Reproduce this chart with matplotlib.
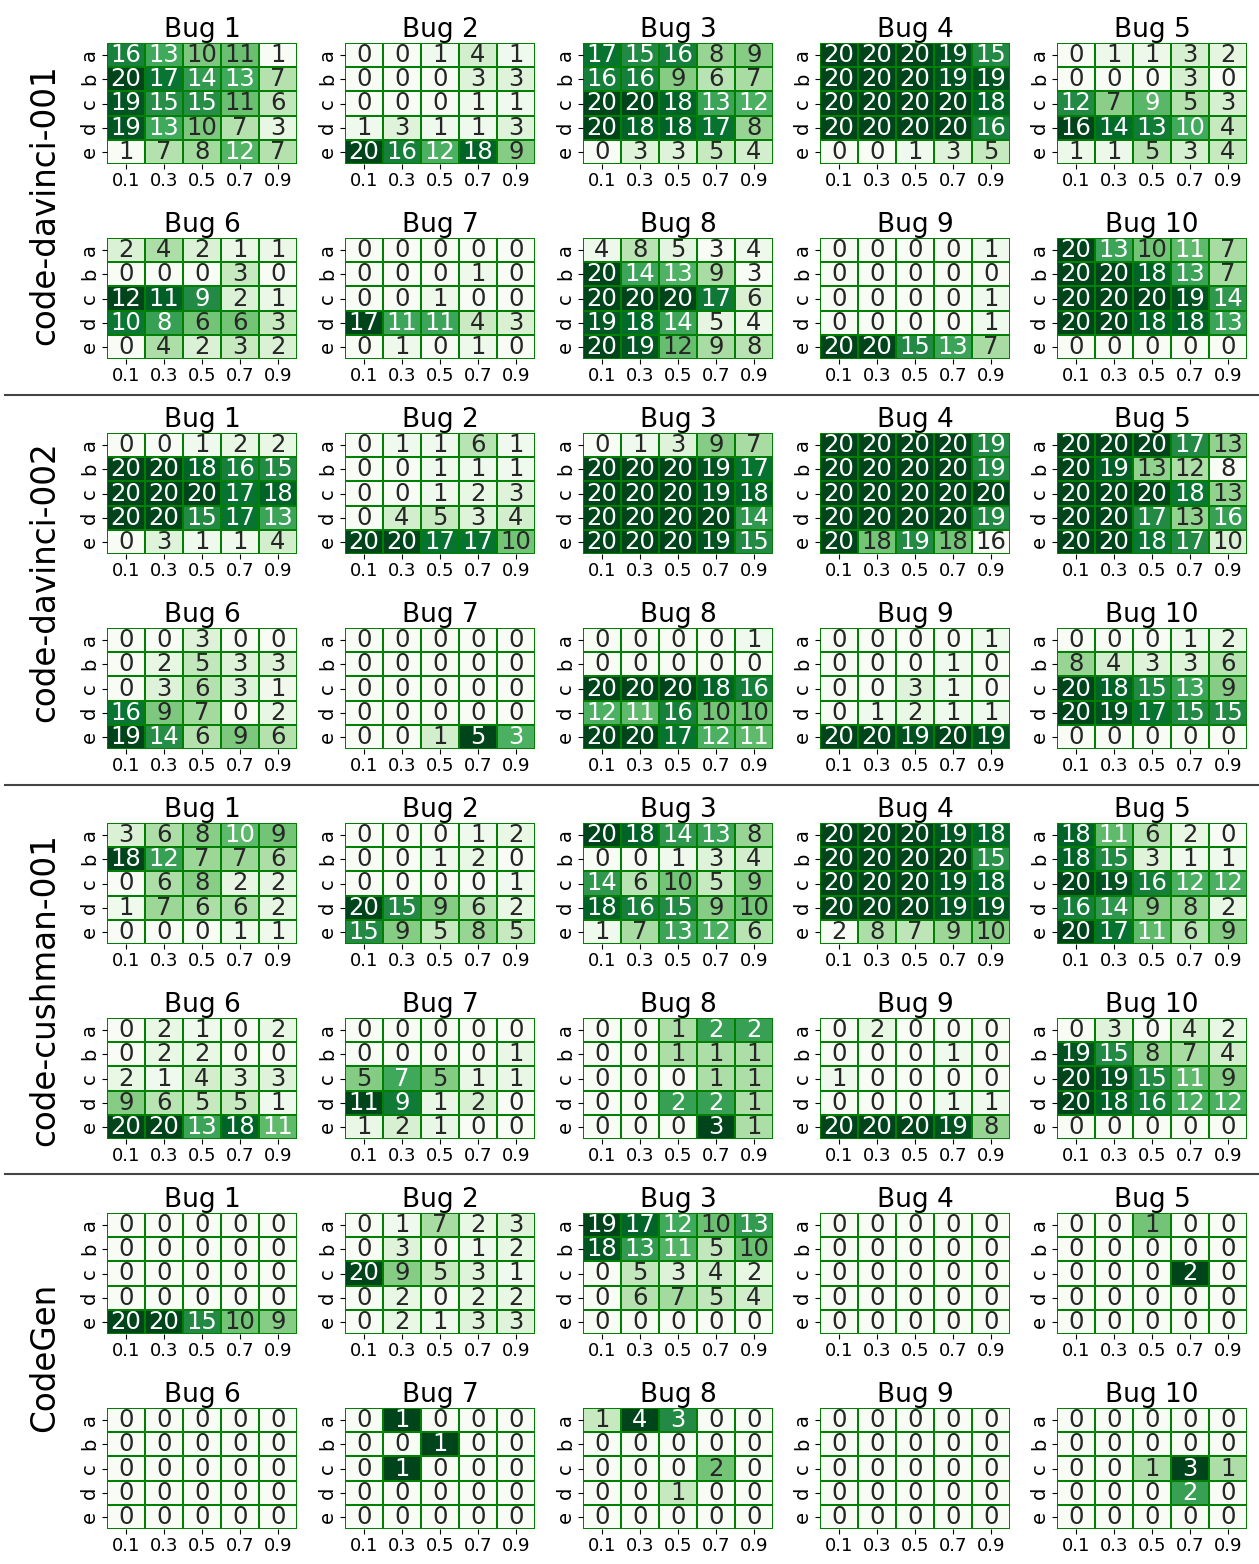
import matplotlib
matplotlib.use('Agg')
import matplotlib.pyplot as plt
import seaborn as sns
import numpy as np

models = ['code-davinci-001', 'code-davinci-002', 'code-cushman-001', 'CodeGen']
bugs = ['Bug %d' % i for i in range(1, 11)]
temps = ['0.1', '0.3', '0.5', '0.7', '0.9']
rows = ['a', 'b', 'c', 'd', 'e']

davinci_001 = [
    [[16, 13, 10, 11, 1], [20, 17, 14, 13, 7], [19, 15, 15, 11, 6], [19, 13, 10, 7, 3], [1, 7, 8, 12, 7]],
    [[0, 0, 1, 4, 1], [0, 0, 0, 3, 3], [0, 0, 0, 1, 1], [1, 3, 1, 1, 3], [20, 16, 12, 18, 9]],
    [[17, 15, 16, 8, 9], [16, 16, 9, 6, 7], [20, 20, 18, 13, 12], [20, 18, 18, 17, 8], [0, 3, 3, 5, 4]],
    [[20, 20, 20, 19, 15], [20, 20, 20, 19, 19], [20, 20, 20, 20, 18], [20, 20, 20, 20, 16], [0, 0, 1, 3, 5]],
    [[0, 1, 1, 3, 2], [0, 0, 0, 3, 0], [12, 7, 9, 5, 3], [16, 14, 13, 10, 4], [1, 1, 5, 3, 4]],
    [[2, 4, 2, 1, 1], [0, 0, 0, 3, 0], [12, 11, 9, 2, 1], [10, 8, 6, 6, 3], [0, 4, 2, 3, 2]],
    [[0, 0, 0, 0, 0], [0, 0, 0, 1, 0], [0, 0, 1, 0, 0], [17, 11, 11, 4, 3], [0, 1, 0, 1, 0]],
    [[4, 8, 5, 3, 4], [20, 14, 13, 9, 3], [20, 20, 20, 17, 6], [19, 18, 14, 5, 4], [20, 19, 12, 9, 8]],
    [[0, 0, 0, 0, 1], [0, 0, 0, 0, 0], [0, 0, 0, 0, 1], [0, 0, 0, 0, 1], [20, 20, 15, 13, 7]],
    [[20, 13, 10, 11, 7], [20, 20, 18, 13, 7], [20, 20, 20, 19, 14], [20, 20, 18, 18, 13], [0, 0, 0, 0, 0]],
]

davinci_002 = [
    [[0, 0, 1, 2, 2], [20, 20, 18, 16, 15], [20, 20, 20, 17, 18], [20, 20, 15, 17, 13], [0, 3, 1, 1, 4]],
    [[0, 1, 1, 6, 1], [0, 0, 1, 1, 1], [0, 0, 1, 2, 3], [0, 4, 5, 3, 4], [20, 20, 17, 17, 10]],
    [[0, 1, 3, 9, 7], [20, 20, 20, 19, 17], [20, 20, 20, 19, 18], [20, 20, 20, 20, 14], [20, 20, 20, 19, 15]],
    [[20, 20, 20, 20, 19], [20, 20, 20, 20, 19], [20, 20, 20, 20, 20], [20, 20, 20, 20, 19], [20, 18, 19, 18, 16]],
    [[20, 20, 20, 17, 13], [20, 19, 13, 12, 8], [20, 20, 20, 18, 13], [20, 20, 17, 13, 16], [20, 20, 18, 17, 10]],
    [[0, 0, 3, 0, 0], [0, 2, 5, 3, 3], [0, 3, 6, 3, 1], [16, 9, 7, 0, 2], [19, 14, 6, 9, 6]],
    [[0, 0, 0, 0, 0], [0, 0, 0, 0, 0], [0, 0, 0, 0, 0], [0, 0, 0, 0, 0], [0, 0, 1, 5, 3]],
    [[0, 0, 0, 0, 1], [0, 0, 0, 0, 0], [20, 20, 20, 18, 16], [12, 11, 16, 10, 10], [20, 20, 17, 12, 11]],
    [[0, 0, 0, 0, 1], [0, 0, 0, 1, 0], [0, 0, 3, 1, 0], [0, 1, 2, 1, 1], [20, 20, 19, 20, 19]],
    [[0, 0, 0, 1, 2], [8, 4, 3, 3, 6], [20, 18, 15, 13, 9], [20, 19, 17, 15, 15], [0, 0, 0, 0, 0]],
]

cushman_001 = [
    [[3, 6, 8, 10, 9], [18, 12, 7, 7, 6], [0, 6, 8, 2, 2], [1, 7, 6, 6, 2], [0, 0, 0, 1, 1]],
    [[0, 0, 0, 1, 2], [0, 0, 1, 2, 0], [0, 0, 0, 0, 1], [20, 15, 9, 6, 2], [15, 9, 5, 8, 5]],
    [[20, 18, 14, 13, 8], [0, 0, 1, 3, 4], [14, 6, 10, 5, 9], [18, 16, 15, 9, 10], [1, 7, 13, 12, 6]],
    [[20, 20, 20, 19, 18], [20, 20, 20, 20, 15], [20, 20, 20, 19, 18], [20, 20, 20, 19, 19], [2, 8, 7, 9, 10]],
    [[18, 11, 6, 2, 0], [18, 15, 3, 1, 1], [20, 19, 16, 12, 12], [16, 14, 9, 8, 2], [20, 17, 11, 6, 9]],
    [[0, 2, 1, 0, 2], [0, 2, 2, 0, 0], [2, 1, 4, 3, 3], [9, 6, 5, 5, 1], [20, 20, 13, 18, 11]],
    [[0, 0, 0, 0, 0], [0, 0, 0, 0, 1], [5, 7, 5, 1, 1], [11, 9, 1, 2, 0], [1, 2, 1, 0, 0]],
    [[0, 0, 1, 2, 2], [0, 0, 1, 1, 1], [0, 0, 0, 1, 1], [0, 0, 2, 2, 1], [0, 0, 0, 3, 1]],
    [[0, 2, 0, 0, 0], [0, 0, 0, 1, 0], [1, 0, 0, 0, 0], [0, 0, 0, 1, 1], [20, 20, 20, 19, 8]],
    [[0, 3, 0, 4, 2], [19, 15, 8, 7, 4], [20, 19, 15, 11, 9], [20, 18, 16, 12, 12], [0, 0, 0, 0, 0]],
]

codegen = [
    [[0, 0, 0, 0, 0], [0, 0, 0, 0, 0], [0, 0, 0, 0, 0], [0, 0, 0, 0, 0], [20, 20, 15, 10, 9]],
    [[0, 1, 7, 2, 3], [0, 3, 0, 1, 2], [20, 9, 5, 3, 1], [0, 2, 0, 2, 2], [0, 2, 1, 3, 3]],
    [[19, 17, 12, 10, 13], [18, 13, 11, 5, 10], [0, 5, 3, 4, 2], [0, 6, 7, 5, 4], [0, 0, 0, 0, 0]],
    [[0, 0, 0, 0, 0], [0, 0, 0, 0, 0], [0, 0, 0, 0, 0], [0, 0, 0, 0, 0], [0, 0, 0, 0, 0]],
    [[0, 0, 1, 0, 0], [0, 0, 0, 0, 0], [0, 0, 0, 2, 0], [0, 0, 0, 0, 0], [0, 0, 0, 0, 0]],
    [[0, 0, 0, 0, 0], [0, 0, 0, 0, 0], [0, 0, 0, 0, 0], [0, 0, 0, 0, 0], [0, 0, 0, 0, 0]],
    [[0, 1, 0, 0, 0], [0, 0, 1, 0, 0], [0, 1, 0, 0, 0], [0, 0, 0, 0, 0], [0, 0, 0, 0, 0]],
    [[1, 4, 3, 0, 0], [0, 0, 0, 0, 0], [0, 0, 0, 2, 0], [0, 0, 1, 0, 0], [0, 0, 0, 0, 0]],
    [[0, 0, 0, 0, 0], [0, 0, 0, 0, 0], [0, 0, 0, 0, 0], [0, 0, 0, 0, 0], [0, 0, 0, 0, 0]],
    [[0, 0, 0, 0, 0], [0, 0, 0, 0, 0], [0, 0, 1, 3, 1], [0, 0, 0, 2, 0], [0, 0, 0, 0, 0]],
]

all_data = [davinci_001, davinci_002, cushman_001, codegen]

W, H = 1259, 1564
fig = plt.figure(figsize=(W / 100, H / 100), dpi=100)

# layout in pixels
lefts = [107, 345, 583, 820, 1057]
hm_w, hm_h = 190, 121
label_y = [205, 582, 990, 1357]

for g, model in enumerate(models):
    for k in range(10):
        r, c = divmod(k, 5)
        top = 43 + 390 * g + 195 * r
        ax = fig.add_axes([lefts[c] / W, 1 - (top + hm_h) / H, hm_w / W, hm_h / H])
        sns.heatmap(np.array(all_data[g][k]), ax=ax, annot=True, cmap='Greens', cbar=False,
                    linewidths=1.2, linecolor='green', annot_kws={'size': 17.5},
                    xticklabels=temps, yticklabels=rows)
        ax.set_title(bugs[k], fontsize=19, pad=1)
        ax.tick_params(axis='x', labelsize=13, pad=2)
        ax.tick_params(axis='y', labelsize=14, pad=2)
    fig.text(45 / W, 1 - label_y[g] / H, model, rotation=90, fontsize=23.5, ha='center', va='center')

for y in [395, 785, 1174]:
    fig.add_artist(plt.Line2D([5 / W, 1], [1 - y / H, 1 - y / H], color='#444444', lw=1.5))

plt.savefig('out.png', dpi=100)
